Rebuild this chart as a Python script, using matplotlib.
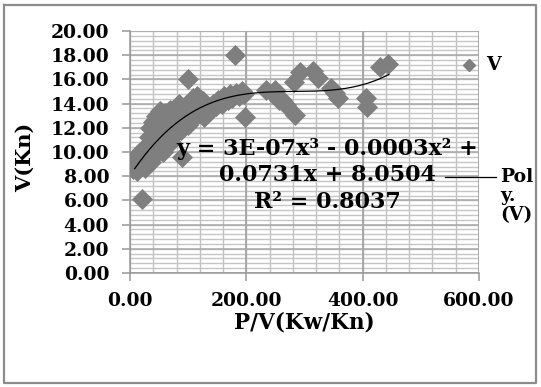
import matplotlib
matplotlib.use("Agg")
import matplotlib.pyplot as plt
import numpy as np
from matplotlib.lines import Line2D

# Power-to-speed ratio (kW/kn) and speed (kn) observations
pv = [5, 8, 10, 12, 14, 15, 18, 20, 22, 25, 27, 30, 20,
      32, 35, 36, 38, 40, 42, 45, 45, 48, 50, 52, 55, 56, 58, 60, 62, 65,
      68, 70, 72, 75, 78, 80, 82, 85, 88, 90, 92, 95, 98, 100, 100, 105,
      108, 110, 112, 115, 118, 120, 125, 128, 132, 138, 142, 148, 152,
      158, 162, 168, 172, 176, 180, 182, 188, 192, 196, 198,
      233, 245, 250, 257, 262, 269, 284, 282, 292, 314, 324,
      345, 353, 358, 405, 407, 430, 444]
speed = [8.6, 9.0, 9.6, 8.4, 9.2, 9.9, 8.8, 10.2, 9.4, 8.7, 9.8, 10.5, 6.1,
         11.2, 12.0, 9.2, 10.8, 12.5, 11.5, 9.8, 13.0, 12.2, 10.6, 13.4, 11.8, 10.0, 12.8, 13.2, 11.0, 12.3,
         13.5, 10.8, 12.0, 13.0, 11.5, 13.8, 12.5, 14.0, 11.8, 9.6, 13.2, 12.6, 13.8, 16.0, 12.2, 13.4,
         14.5, 12.8, 14.0, 14.6, 13.2, 13.8, 14.2, 12.9, 13.6, 13.4, 14.0, 13.8, 14.3,
         14.0, 14.6, 14.3, 14.8, 14.5, 18.05, 14.9, 14.6, 15.0, 14.8, 12.9,
         15.1, 14.9, 15.1, 14.3, 14.3, 13.9, 13.05, 15.8, 16.6, 16.7, 16.1,
         15.3, 14.9, 14.5, 14.5, 13.7, 17.0, 17.3]

# Cubic trend line coefficients (highest power first) and its x-range
trend_coef = [3.05e-7, -2.578e-4, 0.0731, 8.0504]
trend_range = [8, 445]

x_ticks = [0, 200, 400, 600]
y_ticks = [0, 2, 4, 6, 8, 10, 12, 14, 16, 18, 20]
eq_lines = ["y = 3E-07x³ - 0.0003x² +", "0.0731x + 8.0504", "R² = 0.8037"]

W, H = 541, 387
fig = plt.figure(figsize=(W / 100, H / 100), dpi=100)
fig.patch.set_facecolor("white")

serif = "DejaVu Serif"
grey = "#7f7f7f"

def fx(px):
    return px / W

def fy(py):
    return 1 - py / H

# outer chart frame
fig.add_artist(Line2D([fx(4), fx(536), fx(536), fx(4), fx(4)],
                      [fy(5), fy(5), fy(383), fy(383), fy(5)],
                      color="#8c8c8c", linewidth=1.6,
                      transform=fig.transFigure))

ax = fig.add_axes([fx(130), fy(273), fx(349), 242 / H])
ax.set_xlim(0, 600)
ax.set_ylim(0, 20)

# grid: light minor lines, slightly darker major lines
ax.vlines(np.arange(0, 601, 40), 0, 20, colors="#c0c0c0", linewidth=1.0, zorder=0.5)
ax.hlines(np.arange(0, 20.01, 0.4), 0, 600, colors="#c6c6c6", linewidth=1.0, zorder=0.5)
ax.vlines(x_ticks, 0, 20, colors="#a0a0a0", linewidth=1.2, zorder=0.6)
ax.hlines(y_ticks, 0, 600, colors="#a8a8a8", linewidth=1.1, zorder=0.6)

ax.set_xticks(x_ticks)
ax.set_yticks(y_ticks)
ax.set_xticklabels([f"{v:.2f}" for v in x_ticks])
ax.set_yticklabels([f"{v:.2f}" for v in y_ticks])

for s in ["top", "right"]:
    ax.spines[s].set_visible(False)
for s in ["left", "bottom"]:
    ax.spines[s].set_color("#999999")
    ax.spines[s].set_linewidth(1.1)

ax.tick_params(which="major", length=6, width=1.1, color="#999999")
ax.tick_params(axis="y", pad=9)
ax.tick_params(axis="x", pad=8)
for lab in ax.get_xticklabels() + ax.get_yticklabels():
    lab.set_fontfamily(serif)
    lab.set_fontweight("bold")
    lab.set_fontsize(13.5)

ax.scatter(pv, speed, marker="D", s=115, color=grey, linewidths=0, zorder=3)

xt = np.linspace(trend_range[0], trend_range[1], 200)
ax.plot(xt, np.polyval(trend_coef, xt), color="black", linewidth=0.9, zorder=4)

# trend equation label
for i, line in enumerate(eq_lines):
    fig.text(fx(327), fy(149 + 26.5 * i), line, ha="center", va="center",
             fontfamily=serif, fontweight="bold", fontsize=16, zorder=5)

fig.text(fx(25), fy(157), "V(Kn)", rotation=90, ha="center", va="center",
         fontfamily=serif, fontweight="bold", fontsize=15)
fig.text(fx(304), fy(323), "P/V(Kw/Kn)", ha="center", va="center",
         fontfamily=serif, fontweight="bold", fontsize=15.5)

# legend entries
fig.add_artist(Line2D([fx(469)], [fy(65)], marker="D", markersize=6.5,
                      color=grey, linewidth=0, transform=fig.transFigure))
fig.text(fx(486), fy(65), "V", ha="left", va="center",
         fontfamily=serif, fontweight="bold", fontsize=13.5)
fig.add_artist(Line2D([fx(445), fx(496)], [fy(177), fy(177)], color="black",
                      linewidth=0.9, transform=fig.transFigure))
for i, t in enumerate(["Pol", "y.", "(V)"]):
    fig.text(fx(500), fy(177 + 19 * i), t, ha="left", va="center",
             fontfamily=serif, fontweight="bold", fontsize=13.5)

fig.savefig("out.png", dpi=100)
